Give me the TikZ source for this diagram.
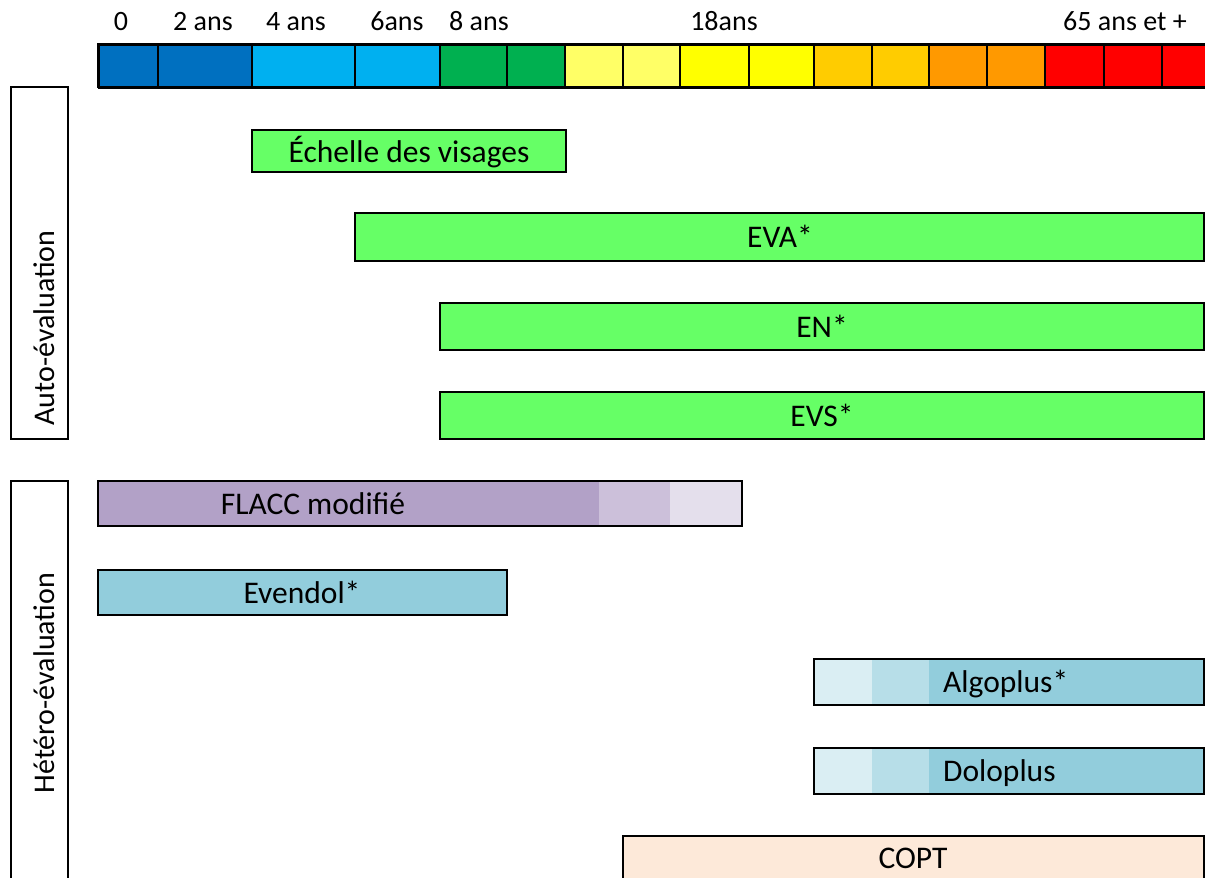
\documentclass[tikz,border=0pt]{standalone}
\usepackage{fontspec}
\setmainfont{Carlito}
\definecolor{cdblue}{HTML}{0070C0}
\definecolor{clblue}{HTML}{00B0F0}
\definecolor{cgreen}{HTML}{00B050}
\definecolor{clyel}{HTML}{FFFF66}
\definecolor{cyel}{HTML}{FFFF00}
\definecolor{cgold}{HTML}{FFCC00}
\definecolor{corange}{HTML}{FF9900}
\definecolor{cred}{HTML}{FF0000}
\definecolor{barg}{HTML}{66FF66}
\definecolor{purp1}{HTML}{B2A1C7}
\definecolor{purp2}{HTML}{CCC0DA}
\definecolor{purp3}{HTML}{E4DFEC}
\definecolor{teal1}{HTML}{92CDDC}
\definecolor{teal2}{HTML}{B7DEE8}
\definecolor{teal3}{HTML}{DAEEF3}
\definecolor{peach}{HTML}{FDE9D9}
\begin{document}
\begin{tikzpicture}[x=1pt,y=-1pt,
  toplbl/.style={font=\fontsize{28}{32}\selectfont, inner sep=0pt, anchor=base},
  lbl/.style={font=\fontsize{31.5}{36}\selectfont, inner sep=0pt, anchor=base},
  sidelbl/.style={font=\fontsize{30}{34}\selectfont, inner sep=0pt, anchor=base, rotate=90},
  cell/.style={draw=black, line width=2pt},
  barbox/.style={draw=black, line width=2pt},
  sidebox/.style={draw=black, line width=2pt}]
\useasboundingbox (0,0) rectangle (1205,878);
\clip (0,0) rectangle (1205,878);
% top scale
\foreach \a/\b/\c in {98/158/cdblue,158/252/cdblue,252/355/clblue,355/440/clblue,440/507/cgreen,507/565/cgreen,565/623/clyel,623/680/clyel,680/749/cyel,749/814/cyel,814/872/cgold,872/929/cgold,929/987/corange,987/1045/corange,1045/1104/cred,1104/1162/cred,1162/1225/cred}
  \draw[cell, fill=\c] (\a,44) rectangle (\b,87);
\draw[line width=3pt] (98,44) -- (1210,44) (98,87) -- (1210,87) (98,44) -- (98,87);
\node[toplbl] (t0) at (121,30) {0};
\node[toplbl] (t2) at (203,30) {2 ans};
\node[toplbl] (t4) at (296,30) {4 ans};
\node[toplbl] (t6) at (397,30) {6ans};
\node[toplbl] (t8) at (479,30) {8 ans};
\node[toplbl] (t18) at (724,30) {18ans};
\node[toplbl] (t65) at (1125,30) {65 ans et +};
% side boxes
\draw[sidebox] (11,87) rectangle (68,439);
\node[sidelbl] (auto) at (54,328) {Auto-évaluation};
\draw[sidebox] (11,481) rectangle (68,900);
\node[sidelbl] (hetero) at (54,683) {Hétéro-évaluation};
% auto bars
\draw[barbox, fill=barg] (252,130) rectangle (566,172);
\node[lbl] (echelle) at (409,162) {Échelle des visages};
\draw[barbox, fill=barg] (355,213) rectangle (1204,261);
\node[lbl] (eva) at (780,247) {EVA*};
\draw[barbox, fill=barg] (440,303) rectangle (1204,350);
\node[lbl] (en) at (822,337) {EN*};
\draw[barbox, fill=barg] (440,392) rectangle (1204,439);
\node[lbl] (evs) at (822,426) {EVS*};
% hetero bars
\fill[purp1] (98,481) rectangle (599,526);
\fill[purp2] (599,481) rectangle (670,526);
\fill[purp3] (670,481) rectangle (742,526);
\draw[barbox] (98,481) rectangle (742,526);
\node[lbl] (flacc) at (313,514) {FLACC modifié};
\draw[barbox, fill=teal1] (98,570) rectangle (507,615);
\node[lbl] (evendol) at (302,603) {Evendol*};
\fill[teal3] (814,659) rectangle (872,705);
\fill[teal2] (872,659) rectangle (929,705);
\fill[teal1] (929,659) rectangle (1204,705);
\draw[barbox] (814,659) rectangle (1204,705);
\node[lbl, anchor=base west] (algo) at (943,692) {Algoplus*};
\fill[teal3] (814,748) rectangle (872,794);
\fill[teal2] (872,748) rectangle (929,794);
\fill[teal1] (929,748) rectangle (1204,794);
\draw[barbox] (814,748) rectangle (1204,794);
\node[lbl, anchor=base west] (dolo) at (943,781) {Doloplus};
\draw[barbox, fill=peach] (623,836) rectangle (1204,900);
\node[lbl] (copt) at (913,868) {COPT};
\end{tikzpicture}
\end{document}
